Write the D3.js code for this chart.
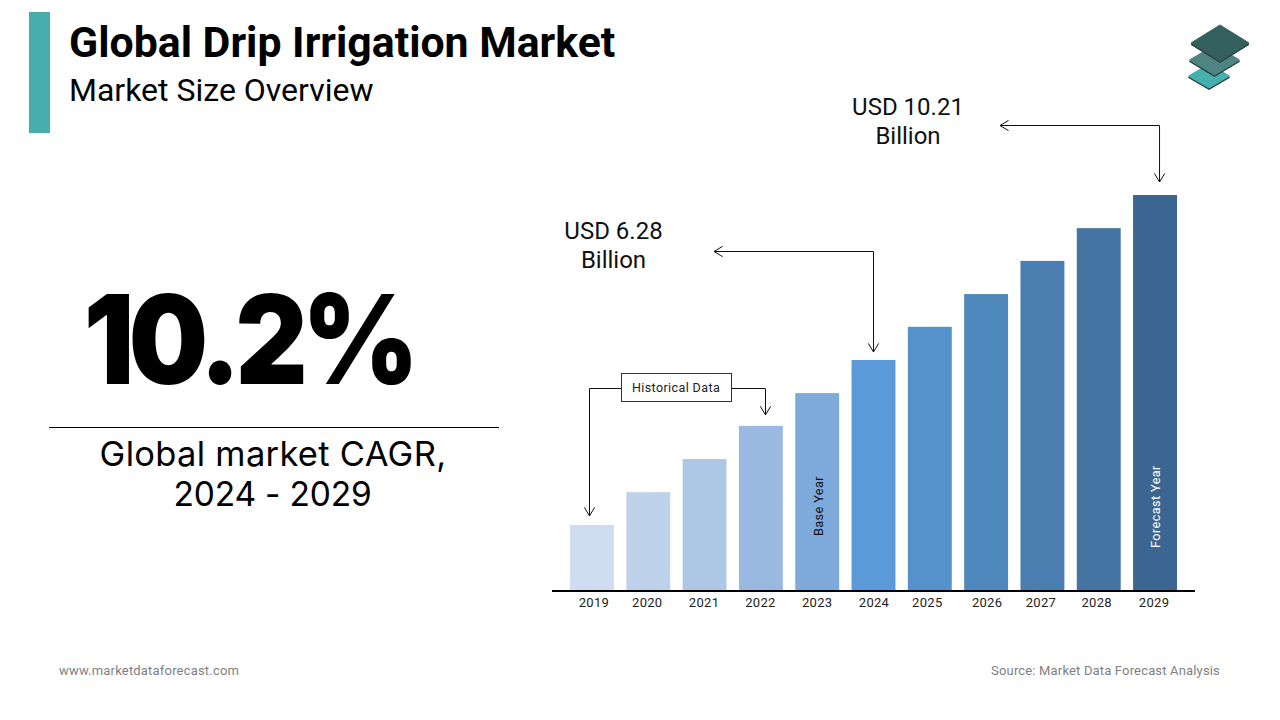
<!DOCTYPE html>
<html>
<head>
<meta charset="utf-8">
<script src="https://cdn.jsdelivr.net/npm/d3@7"></script>
<style>
  html, body { margin: 0; padding: 0; background: #fff; }
  svg { display: block; }
  text { font-family: Roboto, sans-serif; }
</style>
</head>
<body>
<svg id="chart" width="1280" height="720"></svg>
<script>
// DATA
const years = ["2019", "2020", "2021", "2022", "2023", "2024", "2025", "2026", "2027", "2028", "2029"];
const marketSize = [2.35, 3.13, 3.92, 4.71, 5.49, 6.28, 7.07, 7.85, 8.64, 9.42, 10.21];
const barColors = ["#d0dcef", "#bed1ea", "#aec7e6", "#99b9e0", "#7da9db", "#5b9ad8", "#5591cb", "#4f88bc", "#4a7eb0", "#4374a2", "#3b6691"];
const tickNudge = [2, -1, -0.5, -0.5, 0, 0.5, -2.5, 1, -1.5, -2, -1];

const svg = d3.select("#chart");

// SCALES
const x = d3.scaleBand().domain(years).range([570, 1177]).paddingInner(0.22);
const y = d3.scaleLinear().domain([0.8, 10.21]).range([590, 195]);

// HEADER
svg.append("rect").attr("x", 29).attr("y", 12).attr("width", 21).attr("height", 121).attr("fill", "#4aadad");
svg.append("text").attr("x", 69).attr("y", 57).attr("font-size", 42.8).attr("font-weight", 700)
  .attr("fill", "#000").text("Global Drip Irrigation Market");
svg.append("text").attr("x", 69).attr("y", 101).attr("font-size", 32)
  .attr("fill", "#000").text("Market Size Overview");

// LOGO
const logo = svg.append("g");
const layers = [
  { cx: 1209, cy: 76, rx: 20.5, ry: 12, fill: "#45b0b0" },
  { cx: 1214.5, cy: 60, rx: 25, ry: 15, fill: "#4e8583" },
  { cx: 1220, cy: 43, rx: 29, ry: 18, fill: "#33605e" }
];
layers.forEach(l => {
  const pts = (dy) => [[l.cx, l.cy - l.ry + dy], [l.cx + l.rx, l.cy + dy], [l.cx, l.cy + l.ry + dy], [l.cx - l.rx, l.cy + dy]].join(" ");
  logo.append("polygon").attr("points", pts(1.5)).attr("fill", "#2b3f3f").attr("stroke", "#2b3f3f").attr("stroke-linejoin", "round");
  logo.append("polygon").attr("points", pts(0)).attr("fill", l.fill).attr("stroke", l.fill).attr("stroke-linejoin", "round");
});

// LEFT PANEL
svg.append("text").attr("transform", "translate(248.5,384) scale(0.9,1)").attr("text-anchor", "middle")
  .attr("font-size", 124).attr("font-weight", 900).attr("letter-spacing", -6)
  .style("font-family", "Inter, sans-serif")
  .attr("fill", "#000").text("10.2%");
svg.append("line").attr("x1", 49).attr("x2", 499).attr("y1", 427.5).attr("y2", 427.5).attr("stroke", "#000");
svg.append("text").attr("x", 273).attr("y", 466).attr("text-anchor", "middle")
  .attr("font-size", 34.5).attr("letter-spacing", 0.3).style("font-family", "Inter, sans-serif")
  .attr("fill", "#000").text("Global market CAGR,");
svg.append("text").attr("x", 272.5).attr("y", 506).attr("text-anchor", "middle")
  .attr("font-size", 33.5).attr("letter-spacing", -0.2).style("font-family", "Inter, sans-serif")
  .attr("fill", "#000").text("2024 - 2029");

// BARS
svg.selectAll("rect.bar").data(years).join("rect")
  .attr("class", "bar")
  .attr("x", d => x(d))
  .attr("width", x.bandwidth())
  .attr("y", (d, i) => y(marketSize[i]))
  .attr("height", (d, i) => y.range()[0] - y(marketSize[i]))
  .attr("fill", (d, i) => barColors[i]);

// AXIS
const axis = svg.append("g").attr("transform", "translate(0,590)")
  .call(d3.axisBottom(x).tickSize(0).tickPadding(8));
axis.select(".domain").remove();
axis.selectAll("text")
  .style("font-family", "Roboto, sans-serif").attr("font-size", 13).attr("fill", "#222")
  .attr("letter-spacing", 0.3)
  .attr("dx", (d, i) => tickNudge[i]);
svg.append("line").attr("x1", 552).attr("x2", 1195).attr("y1", 591).attr("y2", 591)
  .attr("stroke", "#000").attr("stroke-width", 2);

// BAR NOTES
function barNote(year, label, color, bottom) {
  svg.append("text")
    .attr("transform", `translate(${x(year) + x.bandwidth() / 2 + 1},${bottom}) rotate(-90)`)
    .attr("dy", "0.35em").attr("font-size", 12.7).attr("letter-spacing", 0.4)
    .attr("fill", color).text(label);
}
barNote("2023", "Base Year", "#111", 536);
barNote("2029", "Forecast Year", "#fff", 548);

// ARROWS
const line = d3.line();
function arrowHead(from, to) {
  const a = Math.atan2(to[1] - from[1], to[0] - from[0]);
  const head = [a + 2.6, a - 2.6].map(t => [to[0] + 10 * Math.cos(t), to[1] + 10 * Math.sin(t)]);
  svg.append("path").attr("d", line([head[0], to, head[1]])).attr("fill", "none").attr("stroke", "#111");
}
function connector(points, bothEnds) {
  svg.append("path").attr("d", line(points)).attr("fill", "none").attr("stroke", "#111");
  const n = points.length;
  arrowHead(points[n - 2], points[n - 1]);
  if (bothEnds) arrowHead(points[1], points[0]);
}
const mid = year => x(year) + x.bandwidth() / 2;
const barTop = year => y(marketSize[years.indexOf(year)]);

connector([[1000, 125.5], [mid("2029") + 4.5, 125.5], [mid("2029") + 4.5, barTop("2029") - 13]], true);
connector([[714, 251.5], [mid("2024"), 251.5], [mid("2024"), barTop("2024") - 8]], true);
connector([[621, 388.5], [589.5, 388.5], [589.5, barTop("2019") - 9]]);
connector([[732, 388.5], [765.5, 388.5], [765.5, barTop("2022") - 11]]);

// HISTORICAL BOX
svg.append("rect").attr("x", 621.5).attr("y", 373.5).attr("width", 110).attr("height", 28)
  .attr("fill", "#fff").attr("stroke", "#1f3557");
svg.append("text").attr("x", 676).attr("y", 392).attr("text-anchor", "middle")
  .attr("font-size", 12.5).attr("letter-spacing", 0.4).attr("fill", "#222").text("Historical Data");

// CALLOUTS
function callout(cx, yTop, lines) {
  lines.forEach((t, i) => {
    svg.append("text").attr("x", cx).attr("y", yTop + i * 29).attr("text-anchor", "middle")
      .attr("font-size", 24).attr("fill", "#111").text(t);
  });
}
callout(908, 115, ["USD 10.21", "Billion"]);
callout(613.5, 239, ["USD 6.28", "Billion"]);

// FOOTER
svg.append("text").attr("x", 59).attr("y", 675).attr("font-size", 13).attr("letter-spacing", 0.19)
  .attr("fill", "#7f7f7f").text("www.marketdataforecast.com");
svg.append("text").attr("x", 1220).attr("y", 675).attr("text-anchor", "end").attr("font-size", 13).attr("letter-spacing", 0.165)
  .attr("fill", "#7f7f7f").text("Source: Market Data Forecast Analysis");
</script>
</body>
</html>
